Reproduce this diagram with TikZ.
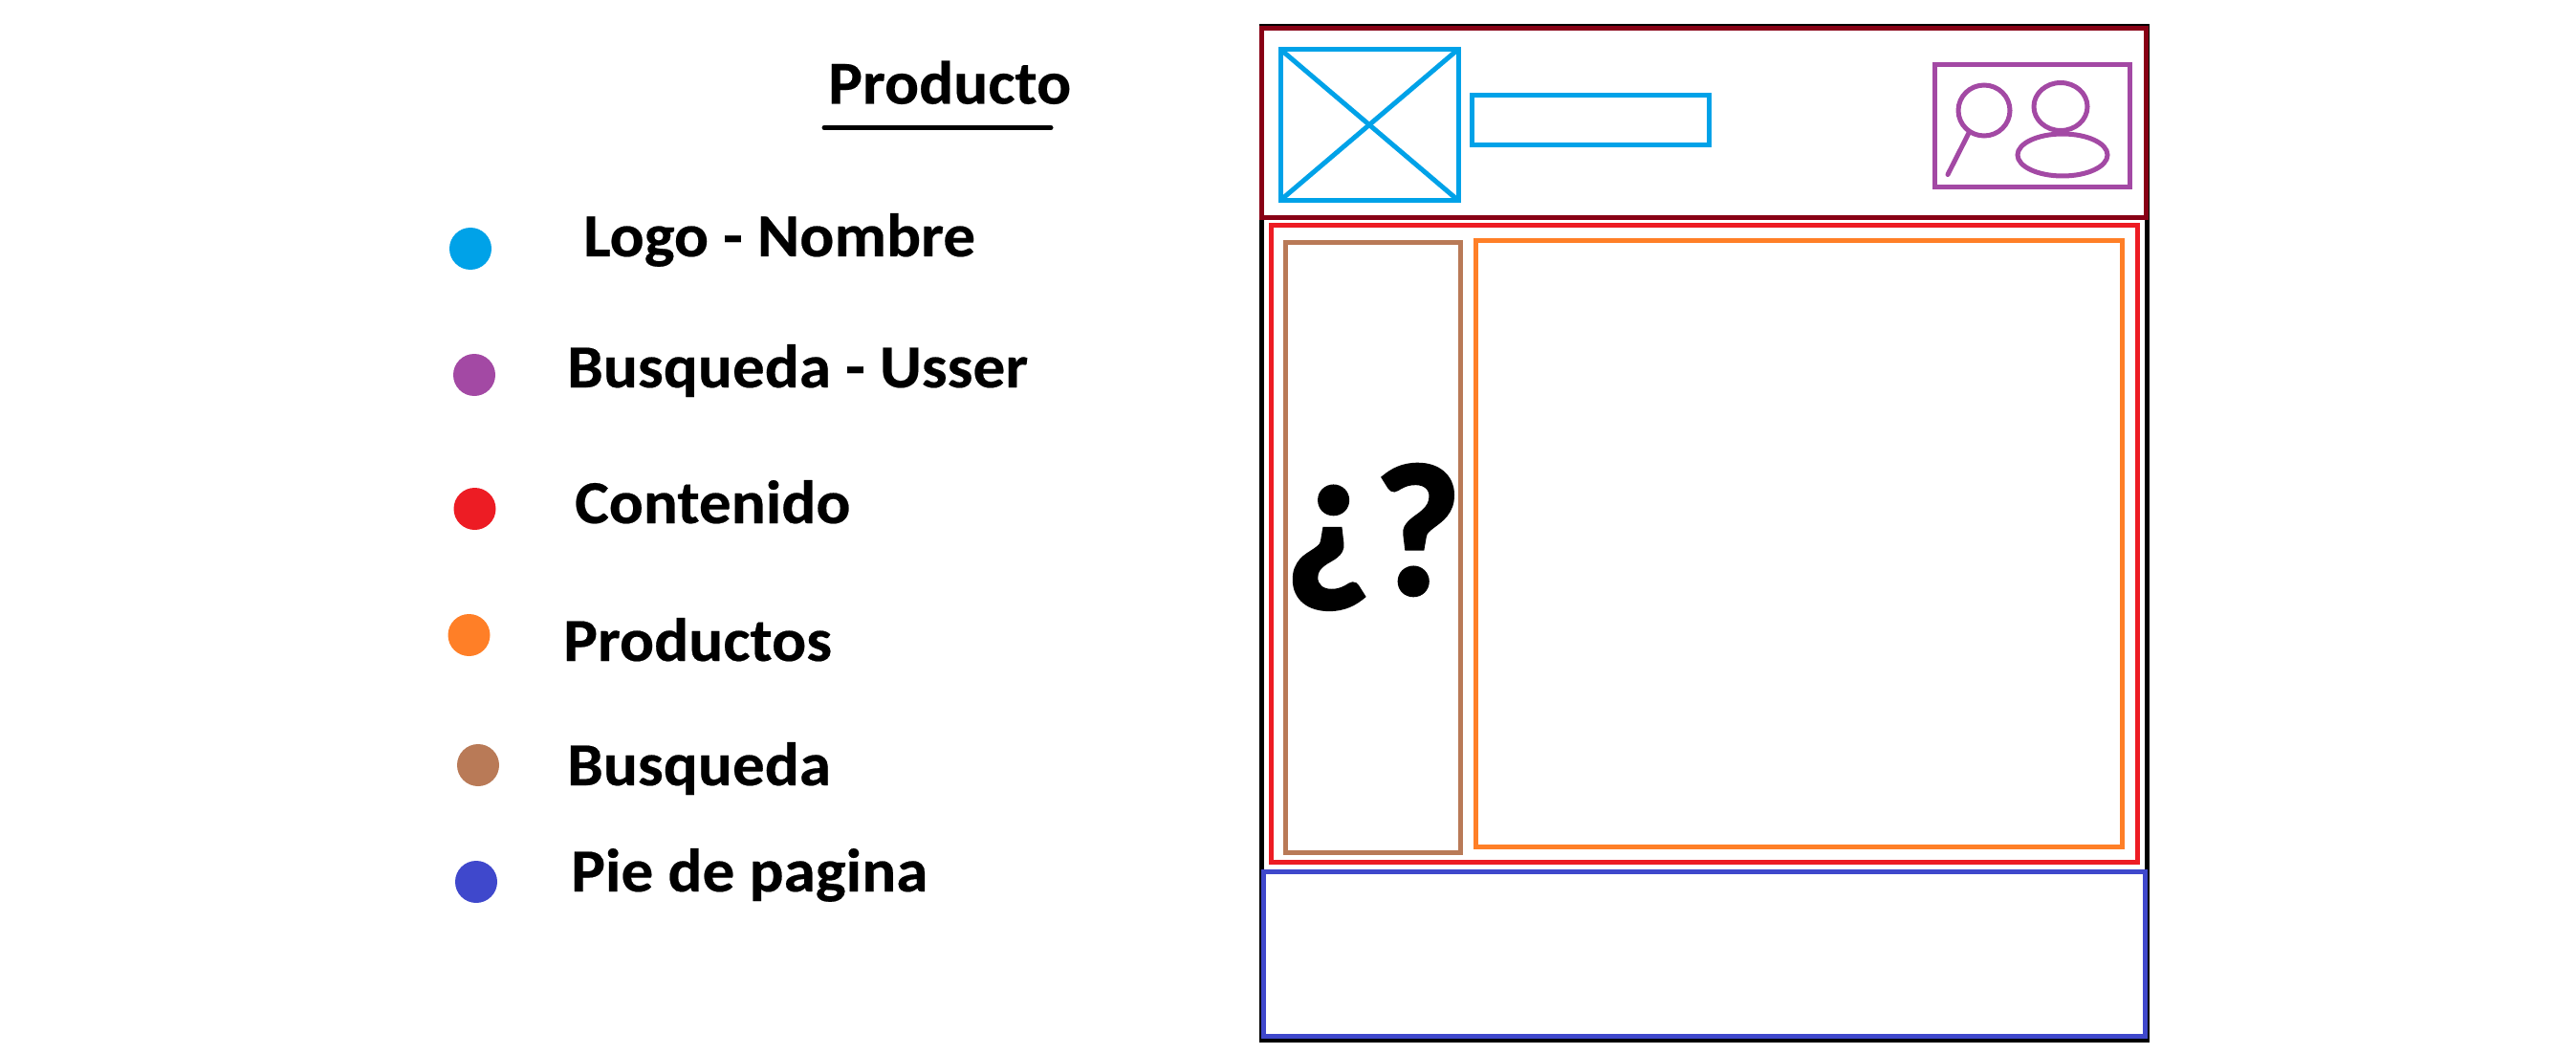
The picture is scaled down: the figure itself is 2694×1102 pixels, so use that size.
\documentclass[tikz,border=0pt]{standalone}
\usepackage{fontspec}
\setmainfont{Carlito}[FakeStretch=1.05,FakeBold=0.35]
\newfontfamily\markfont{Carlito}[FakeBold=2]
\definecolor{logoblue}{HTML}{00A2E8}
\definecolor{userpurple}{HTML}{A349A4}
\definecolor{contentred}{HTML}{ED1C24}
\definecolor{prodorange}{HTML}{FF7F27}
\definecolor{searchbrown}{HTML}{B97A57}
\definecolor{footblue}{HTML}{3F48CC}
\definecolor{headred}{HTML}{880015}
\tikzset{
  frame/.style={draw=#1,line width=5pt,miter limit=10},
  thinline/.style={draw=#1,line width=5pt},
  legenddot/.style={circle,fill=#1,draw=none,inner sep=0pt,minimum size=44pt},
  legendtext/.style={anchor=base west,inner sep=0pt,font=\fontsize{64}{70}\selectfont\bfseries},
  marktext/.style={anchor=base west,inner sep=0pt,font=\fontsize{196}{220}\markfont\bfseries},
}
\begin{document}
\begin{tikzpicture}[x=1pt,y=-1pt]
\path[use as bounding box,fill=white] (0,0) rectangle (2694,1102);
% outer frames
\path[frame=black] (1319.5,27.5) rectangle (2245.5,1087.5);
\path[frame=footblue] (1321.5,911.5) rectangle (2243.5,1083.5);
\path[frame=headred] (1319.5,29.5) rectangle (2244.5,227.5);
% logo and name
\path[frame=logoblue] (1339,51.5) rectangle (1525,209.5);
\path[thinline=logoblue] (1339,51.5) -- (1525,209.5);
\path[thinline=logoblue] (1339,209.5) -- (1525,51.5);
\path[frame=logoblue] (1539.5,99.5) rectangle (1787.5,151.5);
% search and user
\path[frame=userpurple] (2023.5,67.5) rectangle (2227.5,195.5);
\path[thinline=userpurple] (2075,115.5) ellipse [x radius=27,y radius=26.5];
\path[thinline=userpurple,line cap=round] (2059,139) -- (2037,182.5);
\path[thinline=userpurple] (2155,111.5) ellipse [x radius=28,y radius=25];
\path[thinline=userpurple] (2157,162) ellipse [x radius=47,y radius=22];
% content
\path[frame=contentred] (1329.5,235.5) rectangle (2235.5,901.5);
\path[frame=searchbrown] (1344,253.5) rectangle (1527.5,891.5);
\path[frame=prodorange] (1543.7,251.5) rectangle (2219.5,885.5);
\node[marktext] (markopen) at (1343,605) {¿};
\node[marktext] (markclose) at (1437,621) {?};
% title
\node[legendtext] (title) at (866,108.5) {Producto};
\coordinate (ula) at (862,133.5);
\coordinate (ulb) at (1099,133.5);
\draw[line width=5pt,line cap=round] (ula) -- (ulb);
% legend
\node[legenddot=logoblue] (d1) at (492,260) {};
\node[legenddot=userpurple] (d2) at (496,392) {};
\node[legenddot=contentred] (d3) at (496.5,532) {};
\node[legenddot=prodorange] (d4) at (490.5,664) {};
\node[legenddot=searchbrown] (d5) at (500,800) {};
\node[legenddot=footblue] (d6) at (498,922) {};
\node[legendtext] (t1) at (610,268) {Logo - Nombre};
\node[legendtext] (t2) at (593,405) {Busqueda - Usser};
\node[legendtext] (t3) at (601,547) {Contenido};
\node[legendtext] (t4) at (589,691) {Productos};
\node[legendtext] (t5) at (593,821) {Busqueda};
\node[legendtext] (t6) at (597,932) {Pie de pagina};
\end{tikzpicture}
\end{document}
